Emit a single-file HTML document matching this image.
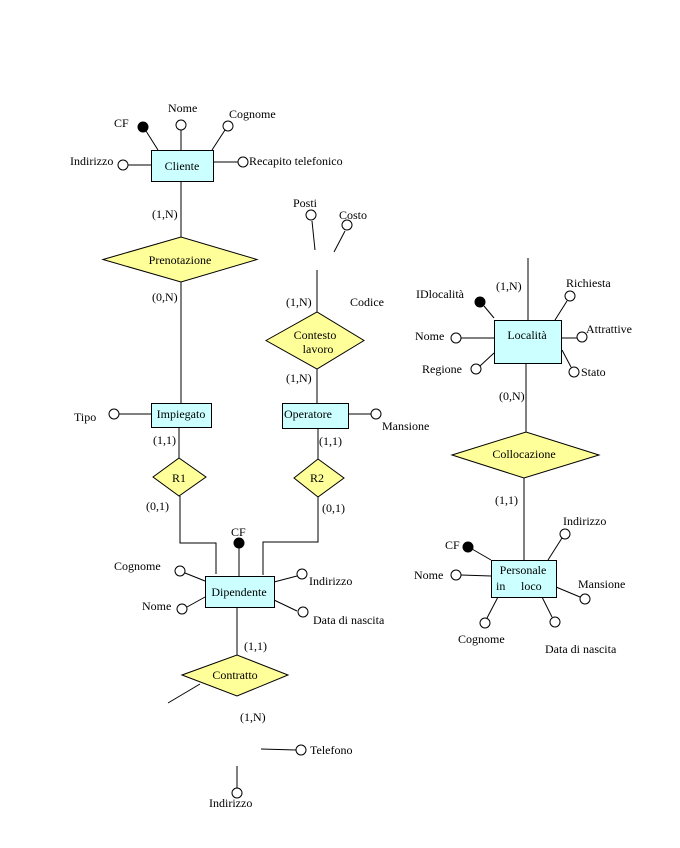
<!DOCTYPE html>
<html><head><meta charset="utf-8"><style>
html,body{margin:0;padding:0;background:#fff;}
svg{display:block;}
text{font-family:"Liberation Serif",serif;font-size:12px;fill:#000;}
</style></head><body>
<svg width="680" height="848" viewBox="0 0 680 848" xmlns="http://www.w3.org/2000/svg">
<g stroke="#000" stroke-width="1" fill="none">
<line x1="181" y1="181" x2="181" y2="237"/>
<line x1="181" y1="282" x2="181" y2="403"/>
<line x1="158" y1="150" x2="146" y2="131"/>
<line x1="181" y1="150" x2="181" y2="130"/>
<line x1="212" y1="150" x2="225" y2="130"/>
<line x1="151" y1="165" x2="128" y2="165"/>
<line x1="213" y1="162" x2="238" y2="162"/>
<line x1="312" y1="221" x2="315" y2="250"/>
<line x1="345" y1="231" x2="334" y2="252"/>
<line x1="317" y1="270" x2="317" y2="312"/>
<line x1="317" y1="369" x2="317" y2="403"/>
<line x1="119" y1="414" x2="151" y2="414"/>
<line x1="348" y1="414" x2="371" y2="414"/>
<line x1="179" y1="427" x2="179" y2="458"/>
<line x1="318" y1="428" x2="318" y2="459"/>
<polyline points="180,496 180,543 216,543 216,574"/>
<polyline points="318,497 318,542 263,542 263,575"/>
<line x1="239" y1="548" x2="239" y2="576"/>
<line x1="185" y1="573" x2="205" y2="581"/>
<line x1="187" y1="607" x2="205" y2="597"/>
<line x1="274" y1="582" x2="297" y2="576"/>
<line x1="274" y1="600" x2="297" y2="611"/>
<line x1="237" y1="607" x2="237" y2="655"/>
<line x1="200" y1="684" x2="168" y2="703"/>
<line x1="261" y1="749" x2="296" y2="750"/>
<line x1="237" y1="766" x2="237" y2="788"/>
<line x1="528" y1="258" x2="528" y2="320"/>
<line x1="484" y1="306" x2="494" y2="318"/>
<line x1="461" y1="338" x2="494" y2="338"/>
<line x1="480" y1="366" x2="494" y2="353"/>
<line x1="555" y1="320" x2="567" y2="301"/>
<line x1="561" y1="338" x2="578" y2="338"/>
<line x1="562" y1="350" x2="571" y2="367"/>
<line x1="526" y1="363" x2="526" y2="432"/>
<line x1="524" y1="478" x2="524" y2="560"/>
<line x1="472" y1="549" x2="491" y2="560"/>
<line x1="461" y1="575" x2="491" y2="576"/>
<line x1="548" y1="560" x2="562" y2="538"/>
<line x1="556" y1="587" x2="580" y2="597"/>
<line x1="498" y1="597" x2="487" y2="618"/>
<line x1="542" y1="597" x2="552" y2="617"/>
</g>
<g stroke="#000" stroke-width="1" fill="#ccffff">
<rect x="151.5" y="150.5" width="62" height="31"/>
<rect x="151.5" y="403.5" width="60" height="24"/>
<rect x="282.5" y="403.5" width="66" height="25"/>
<rect x="205.5" y="576.5" width="69" height="31"/>
<rect x="494.5" y="320.5" width="67" height="43"/>
<rect x="491.5" y="560.5" width="65" height="37"/>
</g>
<g stroke="#000" stroke-width="1" fill="#ffff99">
<polygon points="103,259.5 181,237 257,259.5 181,282"/>
<polygon points="266,340.5 317,312 364,340.5 317,369"/>
<polygon points="153,477 179,458 206,477 179,496"/>
<polygon points="294,478 318,459 344,478 318,497"/>
<polygon points="182,675 237,655 288,675 237,696"/>
<polygon points="452,455 526,432 599,455 524,478"/>
</g>
<g stroke="#000" stroke-width="1" fill="#fff">
<circle cx="181" cy="125" r="5"/>
<circle cx="228" cy="126" r="5"/>
<circle cx="123" cy="165" r="5"/>
<circle cx="243" cy="162" r="5"/>
<circle cx="311" cy="215" r="5"/>
<circle cx="347" cy="225" r="5"/>
<circle cx="114" cy="414" r="5"/>
<circle cx="376" cy="414" r="5"/>
<circle cx="180" cy="571" r="5"/>
<circle cx="182" cy="609" r="5"/>
<circle cx="302" cy="574" r="5"/>
<circle cx="303" cy="612" r="5"/>
<circle cx="301" cy="750" r="5"/>
<circle cx="237" cy="793" r="5"/>
<circle cx="456" cy="338" r="5"/>
<circle cx="476" cy="369" r="5"/>
<circle cx="570" cy="296" r="5"/>
<circle cx="582" cy="337" r="5"/>
<circle cx="574" cy="372" r="5"/>
<circle cx="456" cy="575" r="5"/>
<circle cx="565" cy="534" r="5"/>
<circle cx="585" cy="599" r="5"/>
<circle cx="485" cy="623" r="5"/>
<circle cx="555" cy="622" r="5"/>
</g>
<g fill="#000" stroke="#000">
<circle cx="143" cy="127" r="5"/>
<circle cx="239" cy="543" r="5"/>
<circle cx="480" cy="302" r="5"/>
<circle cx="468" cy="547" r="5"/>
</g>
<text x="182" y="170" text-anchor="middle">Cliente</text>
<text x="114" y="127">CF</text>
<text x="168" y="112">Nome</text>
<text x="229" y="118">Cognome</text>
<text x="70" y="165">Indirizzo</text>
<text x="249" y="165">Recapito telefonico</text>
<text x="152" y="218">(1,N)</text>
<text x="180" y="264" text-anchor="middle">Prenotazione</text>
<text x="152" y="301">(0,N)</text>
<text x="293" y="207">Posti</text>
<text x="339" y="219">Costo</text>
<text x="286" y="306">(1,N)</text>
<text x="350" y="306">Codice</text>
<text x="315" y="339" text-anchor="middle">Contesto</text>
<text x="318" y="353" text-anchor="middle">lavoro</text>
<text x="286" y="382">(1,N)</text>
<text x="181" y="418" text-anchor="middle">Impiegato</text>
<text x="284" y="418">Operatore</text>
<text x="74" y="421">Tipo</text>
<text x="382" y="430">Mansione</text>
<text x="153" y="444">(1,1)</text>
<text x="319" y="445">(1,1)</text>
<text x="179" y="482" text-anchor="middle">R1</text>
<text x="317" y="482" text-anchor="middle">R2</text>
<text x="146" y="510">(0,1)</text>
<text x="322" y="512">(0,1)</text>
<text x="231" y="536">CF</text>
<text x="114" y="570">Cognome</text>
<text x="142" y="610">Nome</text>
<text x="309" y="585">Indirizzo</text>
<text x="313" y="624">Data di nascita</text>
<text x="239" y="596" text-anchor="middle">Dipendente</text>
<text x="244" y="650">(1,1)</text>
<text x="235" y="679" text-anchor="middle">Contratto</text>
<text x="240" y="721">(1,N)</text>
<text x="310" y="754">Telefono</text>
<text x="209" y="807">Indirizzo</text>
<text x="496" y="290">(1,N)</text>
<text x="416" y="298">IDlocalità</text>
<text x="566" y="287">Richiesta</text>
<text x="415" y="340">Nome</text>
<text x="422" y="373">Regione</text>
<text x="586" y="333">Attrattive</text>
<text x="581" y="376">Stato</text>
<text x="527" y="339" text-anchor="middle">Località</text>
<text x="499" y="400">(0,N)</text>
<text x="524" y="458" text-anchor="middle">Collocazione</text>
<text x="495" y="504">(1,1)</text>
<text x="563" y="525">Indirizzo</text>
<text x="445" y="549">CF</text>
<text x="414" y="579">Nome</text>
<text x="523" y="574" text-anchor="middle">Personale</text>
<text x="496" y="590">in</text>
<text x="521" y="590">loco</text>
<text x="578" y="588">Mansione</text>
<text x="458" y="643">Cognome</text>
<text x="545" y="653">Data di nascita</text>
</svg>
</body></html>
